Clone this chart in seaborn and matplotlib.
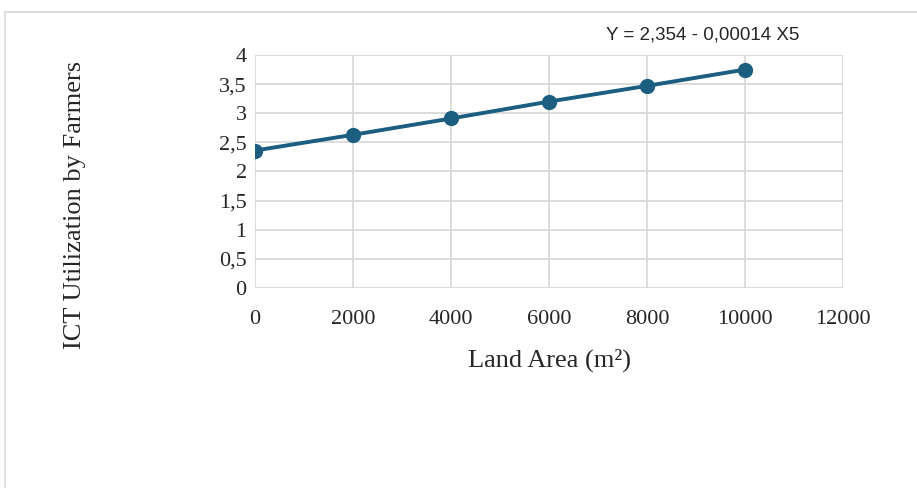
import numpy as np
import pandas as pd
import seaborn as sns
import matplotlib.pyplot as plt
from matplotlib.patches import Rectangle
from matplotlib.ticker import FuncFormatter

# data
land_area = [0, 2000, 4000, 6000, 8000, 10000]
ict_use = [2.36, 2.63, 2.91, 3.20, 3.47, 3.75]
x_ticks = [0, 2000, 4000, 6000, 8000, 10000, 12000]
y_ticks = [0, 0.5, 1, 1.5, 2, 2.5, 3, 3.5, 4]
equation = 'Y = 2,354 - 0,00014 X5'

sns.set_style('white')
plt.rcParams['font.family'] = ['Liberation Serif', 'DejaVu Serif']

df = pd.DataFrame({'area': land_area, 'ict': ict_use})

fig = plt.figure(figsize=(9.17, 4.88), dpi=100)
ax = fig.add_axes([255/917, 1-288/488, (843-255)/917, (288-55)/488])

sns.lineplot(data=df, x='area', y='ict', ax=ax, color='#1b5e80',
             linewidth=2.8, marker='o', markersize=11, markeredgewidth=0)

ax.set_xlim(0, 12000)
ax.set_ylim(0, 4)
ax.set_xticks(x_ticks)
ax.set_yticks(y_ticks)
ax.yaxis.set_major_formatter(FuncFormatter(lambda v, p: ('%g' % v).replace('.', ',')))
ax.grid(True, color='#d9d9d9', linewidth=1.3)
ax.set_axisbelow(True)
for s in ax.spines.values():
    s.set_visible(False)
ax.tick_params(axis='both', length=0, labelsize=16)
ax.tick_params(axis='x', pad=16)
ax.tick_params(axis='y', pad=6)

ax.set_xlabel('Land Area (m²)', fontsize=19, labelpad=14)
ax.set_ylabel('')
fig.text(75/917, 1-205/488, 'ICT Utilization by Farmers', rotation=90,
         fontsize=19, ha='center', va='center')

fig.text(703/917, 1-35/488, equation, family=['Liberation Sans', 'DejaVu Sans'],
         fontsize=13.5, ha='center', va='center')

fig.patches.append(Rectangle((4.5/917, -0.05), 1.0, 1-11.5/488+0.05,
                             transform=fig.transFigure, fill=False,
                             edgecolor='#d9d9d9', linewidth=1.2))

fig.savefig('out.png', dpi=100)
